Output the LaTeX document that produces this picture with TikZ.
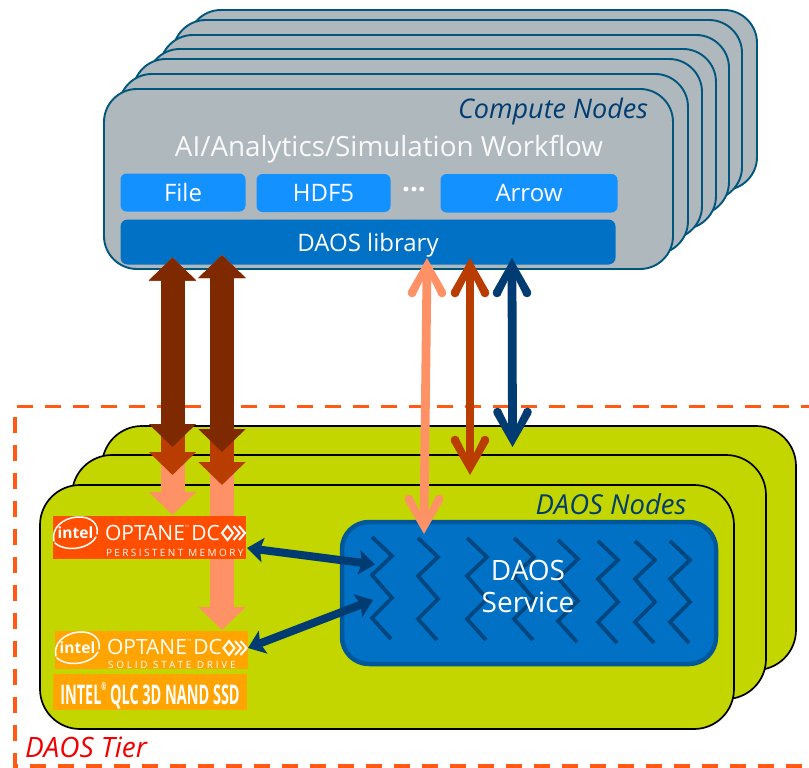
\documentclass[tikz,border=0pt]{standalone}
\usepackage{fontspec}
\usepackage{graphicx}
\setmainfont{Open Sans}
\usetikzlibrary{arrows.meta,calc}
\definecolor{cnfill}{HTML}{AFB8BD}
\definecolor{cnline}{HTML}{00567C}
\definecolor{navytext}{HTML}{003C71}
\definecolor{midblue}{HTML}{1391FF}
\definecolor{libblue}{HTML}{0071C5}
\definecolor{svcline}{HTML}{00589A}
\definecolor{zigline}{HTML}{00477F}
\definecolor{green1}{HTML}{C4D600}
\definecolor{brownA}{HTML}{7F2900}
\definecolor{redB}{HTML}{B93C00}
\definecolor{salmonC}{HTML}{FF9166}
\definecolor{navyD}{HTML}{003C71}
\definecolor{pmem}{HTML}{FF4E00}
\definecolor{ssd}{HTML}{FFA400}
\definecolor{tierdash}{HTML}{FF5A14}
\tikzset{
  x=1pt,y=-1pt,
  boxbase/.style={anchor=north west,inner sep=0pt,outer sep=0pt},
  cnbox/.style={boxbase,draw=cnline,fill=cnfill,line width=1.9pt,rounded corners=33pt,minimum width=569pt,minimum height=180pt},
  dnbox/.style={boxbase,draw=black,fill=green1,line width=1.7pt,rounded corners=40pt,minimum width=694pt,minimum height=244pt},
  apibox/.style={boxbase,fill=midblue,text=white,rounded corners=6pt,font=\fontsize{24}{27}\selectfont},
  libbox/.style={boxbase,fill=libblue,text=white,rounded corners=7pt,font=\fontsize{24}{27}\selectfont},
  svcbox/.style={boxbase,draw=svcline,fill=libblue,line width=4.5pt,rounded corners=27pt,minimum width=374pt,minimum height=142pt},
  logobox/.style={boxbase},
  fatA/.style={line width=24pt,{Triangle[length=23pt,width=46pt]}-{Triangle[length=23pt,width=46pt]}},
  small/.style={navyD,line width=8pt,{Stealth[length=16pt,width=24pt,inset=3pt]}-{Stealth[length=16pt,width=24pt,inset=3pt]}},
  zig/.style={draw=zigline,line width=3.8pt},
  labeltext/.style={inner sep=0pt,outer sep=0pt},
  white text/.style={labeltext,text=white},
  barbhead/.pic={
    \fill[pic actions] (0,0) -- (-33,18.8) -- (-38,12) -- (-14,0) -- (-38,-12) -- (-33,-18.8) -- cycle;
    \fill[pic actions] (-35,15) circle[radius=4.3] (-35,-15) circle[radius=4.3];
  },
}
\newcommand{\zigcol}[2]{%
  \draw[zig] (#1,#2) -- ++(20,19) -- ++(-20,19) -- ++(20,23) -- ++(-20,20) -- ++(19,21);
}
\newcommand{\thinarrow}[3]{%
  \draw[#1,line width=8.8pt] (#2) ++(0,12) -- ($(#3)+(0,-12)$);
  \path (#2) pic[rotate=90,#1] {barbhead};
  \path (#3) pic[rotate=-90,#1] {barbhead};
}
\newcommand{\intellogo}[2]{%
  \begin{scope}[shift={(#1,#2)}]
    \node[white text,font=\fontsize{15.5}{16}\selectfont\bfseries] (il#1) at (22.5,17) {intel};
    \draw[white,line width=1.5pt,line cap=round] (1,25) .. controls (-2,12) and (10,2) .. (24,1) .. controls (38,0) and (46,8) .. (44,18);
    \draw[white,line width=1.5pt,line cap=round] (43,21) .. controls (38,30) and (24,34) .. (13,32) .. controls (8,31) and (4,29) .. (2,27);
  \end{scope}
}
\newcommand{\optane}{\scalebox{1.0}[1]{OPTANE\raisebox{0.62em}{\fontsize{3}{3}\selectfont TM}\hspace{2pt}DC}}
\begin{document}
\begin{tikzpicture}
\useasboundingbox (0,0) rectangle (809,768);
% compute stack
\node[cnbox] (c7) at (188,10) {};
\node[cnbox] (c6) at (173,20) {};
\node[cnbox] (c5) at (160,35) {};
\node[cnbox] (c4) at (147,49) {};
\node[cnbox] (c3) at (133,59) {};
\node[cnbox] (c2) at (119,74) {};
\node[cnbox] (c1) at (104,89) {};
\node[labeltext,text=navytext,font=\fontsize{27}{30}\selectfont\itshape] (cntitle) at (553,111) {Compute Nodes};
\node[labeltext,text=white!92!cnfill,font=\fontsize{27.8}{31}\selectfont] (wf) at (389,149) {AI/Analytics/Simulation Workflow};
\node[apibox,minimum width=125pt,minimum height=38pt] (file) at (120.5,173.5) {File};
\node[apibox,minimum width=134pt,minimum height=38pt] (hdf) at (256.5,174) {HDF5};
\node[labeltext,text=white,font=\fontsize{28}{30}\selectfont\bfseries] (dots) at (414,190) {...};
\node[apibox,minimum width=177pt,minimum height=38.5pt] (arrowb) at (440.5,174) {Arrow};
\node[libbox,minimum width=495pt,minimum height=45pt,text depth=0pt] (lib) at (120.5,219.5) {\raisebox{-1pt}{DAOS library}};
% daos stack
\node[dnbox] (d3) at (102,426) {};
\node[dnbox] (d2) at (72,455) {};
\node[dnbox] (d1) at (40,485) {};
\node[labeltext,text=navytext,font=\fontsize{27.5}{30}\selectfont\itshape] (dntitle) at (611,504) {DAOS Nodes};
\node[svcbox] (svc) at (342,522) {};
\zigcol{372}{537}
\zigcol{418}{538}
\zigcol{467}{538}
\zigcol{514}{538}
\zigcol{558}{540}
\zigcol{598}{541}
\zigcol{635}{541}
\zigcol{670}{541}
\node[labeltext,text=white,align=center,font=\fontsize{28}{32}\selectfont] (svctxt) at (528,586) {DAOS\\Service};
% tier
\coordinate (t1) at (809,406.5);
\coordinate (t2) at (15,406.5);
\coordinate (t3) at (15,766);
\coordinate (t4) at (809,766);
\draw[tierdash,line width=3.6pt,dash pattern=on 16pt off 12pt,dash phase=8pt] (t1) -- (t2) -- (t3) -- (t4);
\node[labeltext,text=red!95!black,font=\fontsize{28}{30}\selectfont\itshape,anchor=west] (tier) at (25,747) {DAOS Tier};
% anchors for connectors
\coordinate (a1) at (172.5,257.5);
\coordinate (a2) at (222,255);
\coordinate (s1) at (172.5,515);
\coordinate (s2) at (222,630);
\coordinate (r1) at (172.5,475);
\coordinate (r2) at (222,485);
\coordinate (b1) at (172.5,447);
\coordinate (b2) at (222,452);
\draw[fatA,salmonC] (a1) -- (s1);
\draw[fatA,salmonC] (a2) -- (s2);
\draw[fatA,redB] (a1) -- (r1);
\draw[fatA,redB] (a2) -- (r2);
\draw[fatA,brownA] (a1) -- (b1);
\draw[fatA,brownA] (a2) -- (b2);
% thin
\coordinate (u1) at (427,258);
\coordinate (v1) at (424,534);
\coordinate (u2) at (470,258);
\coordinate (v2) at (470,475);
\coordinate (u3) at (512,258);
\coordinate (v3) at (512.5,447);
\thinarrow{salmonC}{u1}{v1}
\thinarrow{redB}{u2}{v2}
\thinarrow{navyD}{u3}{v3}
% logos
\node[logobox,fill=pmem,minimum width=193pt,minimum height=43pt] (pm) at (53,516) {};
\node[logobox,fill=ssd,minimum width=193pt,minimum height=38pt] (sd) at (55,631) {};
\node[logobox,fill=ssd,minimum width=194pt,minimum height=36pt] (qlc) at (53,674) {};
\intellogo{53}{516}
\intellogo{55}{631}
\node[white text,font=\fontsize{21}{22}\selectfont,anchor=west] (o1) at (105,533) {\optane};
\node[white text,font=\fontsize{21}{22}\selectfont,anchor=west] (o2) at (107,647) {\optane};
\node[white text,font=\fontsize{10}{11}\selectfont,anchor=west] (o1s) at (106,553) {\addfontfeatures{LetterSpace=24}PERSISTENT MEMORY};
\node[white text,font=\fontsize{10}{11}\selectfont,anchor=west] (o2s) at (108,665) {\addfontfeatures{LetterSpace=28}SOLID STATE DRIVE};
\node[white text,font=\fontsize{27}{29}\selectfont\bfseries] (qt) at (150,696) {\scalebox{0.535}[1]{INTEL\raisebox{0.5em}{\fontsize{11}{11}\selectfont ®}\ QLC 3D NAND SSD}};
% chevrons
\foreach \ox/\oy/\nm in {227.5/533/p,229/648/q}{
  \draw[white,line width=2pt,line join=miter] (\ox-5.5,\oy) -- (\ox,\oy-7) -- (\ox+5.5,\oy) -- (\ox,\oy+7) -- cycle;
  \draw[white,line width=2pt] (\ox+6,\oy-7) -- (\ox+12,\oy) -- (\ox+6,\oy+7);
  \draw[white,line width=2pt] (\ox+11.5,\oy-7) -- (\ox+17.5,\oy) -- (\ox+11.5,\oy+7);
}
% small arrows
\coordinate (p1) at (247,548);
\coordinate (p2) at (375,564.5);
\coordinate (q1) at (248,648);
\coordinate (q2) at (373,600);
\draw[small] (p1) -- (p2);
\draw[small] (q1) -- (q2);
\end{tikzpicture}
\end{document}
